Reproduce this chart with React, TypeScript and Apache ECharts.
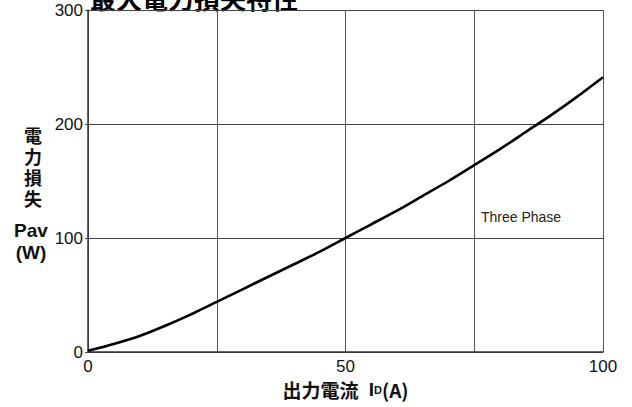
import React, { useEffect, useRef } from "react";
import * as echarts from "echarts";

const currentValues = [0, 5, 10, 15, 20, 25, 30, 35, 40, 45, 50, 55, 60, 65, 70, 75, 80, 85, 90, 95, 100];
const powerValues = [1, 7, 14, 23, 33, 44, 55, 66, 77, 88, 100, 112, 124, 137, 150, 164, 178, 193, 208, 224, 241];
const xTickLabels = [0, 50, 100];
const yTickLabels = [0, 100, 200, 300];
const titleText = "最大電力損失特性";
const yNameChars = ["電", "力", "損", "失"];
const annotation = { text: "Three Phase", x: 76.3, y: 118.7 };

const CJK = "'Noto Sans CJK JP', 'Noto Sans CJK SC', sans-serif";
const LAT = "'Liberation Sans', Arial, sans-serif";
const LAT_CJK = "'Liberation Sans', 'Noto Sans CJK JP', sans-serif";

export default function App() {
  const ref = useRef<HTMLDivElement>(null);
  useEffect(() => {
    if (!ref.current) return;
    const chart = echarts.init(ref.current, undefined, { renderer: "svg" });
    const data = currentValues.map((x, i) => [x, powerValues[i]]);
    const yNameGraphics = yNameChars.map((ch, i) => ({
      type: "text",
      x: 33,
      y: 137 + i * 21,
      style: {
        text: ch,
        fontSize: 18,
        fontWeight: "bold",
        fontFamily: LAT_CJK,
        fill: "#111",
        align: "center",
        verticalAlign: "middle",
      },
    }));
    chart.setOption({
      animation: false,
      backgroundColor: "#ffffff",
      grid: { left: 88, right: 29, top: 10, bottom: 55, containLabel: false, outerBoundsMode: "none" },
      xAxis: {
        type: "value",
        min: 0,
        max: 100,
        interval: 25,
        name: "出力電流 {i|I}{d|D}{p|(A)}",
        nameLocation: "middle",
        nameGap: 27,
        nameTextStyle: {
          fontSize: 19,
          fontWeight: "bold",
          fontFamily: CJK,
          color: "#111",
          rich: {
            i: { fontSize: 19, fontWeight: "bold", fontFamily: LAT, color: "#111", padding: [0, 0, 0, 6] },
            d: { fontSize: 11, fontWeight: "bold", fontFamily: LAT, color: "#111", verticalAlign: "bottom", padding: [0, 0, 3, 0] },
            p: { fontSize: 19, fontWeight: "bold", fontFamily: CJK, color: "#111" },
          },
        },
        axisLine: { show: true, lineStyle: { color: "#333", width: 1.5 } },
        axisTick: { show: false },
        axisLabel: {
          margin: 6,
          fontSize: 17,
          fontFamily: LAT,
          color: "#111",
          formatter: (v: number) => (xTickLabels.includes(v) ? String(v) : ""),
        },
        splitLine: { show: true, lineStyle: { color: "#555", width: 1 } },
      },
      yAxis: {
        type: "value",
        min: 0,
        max: 300,
        interval: 100,
        axisLine: { show: true, lineStyle: { color: "#333", width: 1.5 } },
        axisTick: { show: true, length: 3, lineStyle: { color: "#444" } },
        axisLabel: {
          margin: 5,
          fontSize: 17,
          fontFamily: LAT,
          color: "#111",
          formatter: (v: number) => (yTickLabels.includes(v) ? String(v) : ""),
        },
        splitLine: { show: true, lineStyle: { color: "#444", width: 1 } },
      },
      series: [
        {
          type: "line",
          data,
          smooth: 0.25,
          showSymbol: false,
          lineStyle: { color: "#000", width: 2.6 },
          markPoint: {
            symbol: "circle",
            symbolSize: 0,
            label: {
              show: true,
              position: "right",
              distance: 0,
              formatter: annotation.text,
              fontSize: 14,
              fontFamily: LAT,
              color: "#222",
            },
            data: [{ coord: [annotation.x, annotation.y] }],
          },
        },
      ],
      graphic: [
        {
          type: "text",
          x: 90,
          y: 10,
          style: {
            text: titleText,
            fontSize: 26,
            fontWeight: "bold",
            fontFamily: CJK,
            fill: "#000",
            align: "left",
            verticalAlign: "bottom",
          },
        },
        ...yNameGraphics,
        {
          type: "text",
          x: 31,
          y: 230,
          style: {
            text: "Pav",
            fontSize: 19,
            fontWeight: "bold",
            fontFamily: LAT,
            fill: "#111",
            align: "center",
            verticalAlign: "middle",
          },
        },
        {
          type: "text",
          x: 31,
          y: 252,
          style: {
            text: "(W)",
            fontSize: 19,
            fontWeight: "bold",
            fontFamily: LAT,
            fill: "#111",
            align: "center",
            verticalAlign: "middle",
          },
        },
      ],
    });
    return () => chart.dispose();
  }, []);
  return (
    <div
      ref={ref}
      style={{ position: "fixed", left: 0, top: 0, width: 632, height: 407, background: "#fff" }}
    />
  );
}
